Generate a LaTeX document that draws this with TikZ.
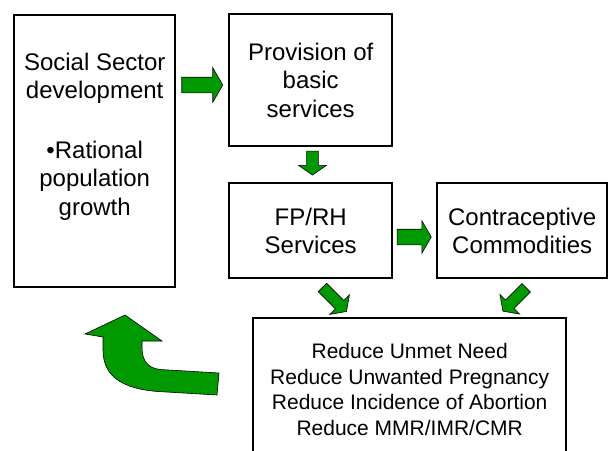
\documentclass[tikz,border=0pt]{standalone}
\usepackage{fontspec}
\setmainfont{Liberation Sans}
\usetikzlibrary{calc,positioning,shapes.arrows}
\definecolor{Leaf}{HTML}{009900}
\definecolor{Ink}{HTML}{000000}
\newcommand\boxfont{\fontsize{24}{28.5}\selectfont}
\newcommand\goalfont{\fontsize{21}{25.5}\selectfont}
\tikzset{
  box/.style={
    draw=Ink, line width=2.4pt, fill=white, anchor=north west,
    align=center, inner sep=0pt, font=\boxfont
  },
  boxtext/.style={align=center, inner sep=0pt, font=\boxfont},
  goal/.style={box, font=\goalfont},
  barrow/.style={
    single arrow, draw=Ink, line width=0.6pt, fill=Leaf,
    inner xsep=0pt, inner ysep=7.5pt, single arrow head extend=9.5pt,
    single arrow tip angle=120, minimum height=40pt
  },
  sarrow/.style={
    barrow, inner ysep=5.6pt, single arrow head extend=8pt,
    single arrow tip angle=110, minimum height=30pt
  },
  bigarrow/.style={draw=Ink, line width=0.6pt, fill=Leaf}
}

\begin{document}
\begin{tikzpicture}[x=1pt,y=-1pt]
    \clip (0,0) rectangle (610,450);
    % boxes
    \node[box,minimum width=161pt,minimum height=272pt] (social) at (13,14) {};
    \node[boxtext,anchor=north] (socialtext) at ($(social.north)+(0,38.5)$)
      {Social Sector\\development\\[31pt]\textbullet Rational\\population\\growth};
    \node[box,minimum width=163pt,minimum height=132pt] (prov) at (228,13) {Provision of\\basic\\services};
    \node[box,minimum width=163pt,minimum height=95pt] (fprh) at (228,182) {FP/RH\\Services};
    \node[box,minimum width=170pt,minimum height=95pt] (contra) at (436,182) {Contraceptive\\Commodities};
    \node[goal,minimum width=313pt,minimum height=143pt] (reduce) at (252,317)
      {Reduce Unmet Need\\Reduce Unwanted Pregnancy\\Reduce Incidence of Abortion\\Reduce MMR/IMR/CMR};
    % block arrows
    \node[barrow,minimum height=41pt] (a1) at (200,85) {};
    \node[sarrow,minimum height=24pt,rotate=-90] (a2) at (312.5,161) {};
    \node[barrow,minimum height=34pt,single arrow head extend=8.5pt] (a3) at (412,237) {};
    \node[sarrow,minimum height=34pt,rotate=-45] (a4) at (333,298) {};
    \node[sarrow,minimum height=33pt,rotate=-135] (a5) at (516,298) {};
    % back to the social sector box
    \draw[bigarrow] (219,373) -- (160,369.5)
      .. controls (147,368) and (142,360) .. (142,347) -- (142,341)
      -- (162,341) -- (125,315) -- (85,334) -- (103,337) -- (103,350)
      .. controls (103,378) and (125,389) .. (158,391.5) -- (217,395) -- cycle;
\end{tikzpicture}
\end{document}
